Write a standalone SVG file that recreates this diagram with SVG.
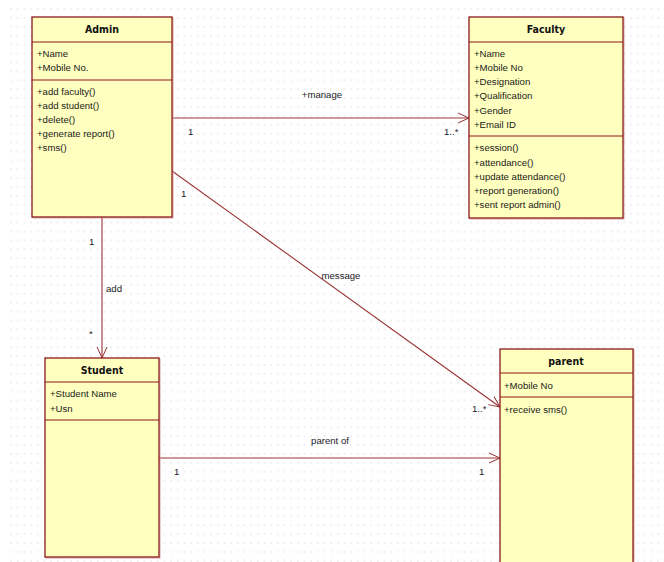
<svg xmlns="http://www.w3.org/2000/svg" width="664" height="562" viewBox="0 0 664 562">
<defs>
<pattern id="grid" x="10" y="8" width="6.67" height="8.9" patternUnits="userSpaceOnUse">
<rect x="0.5" y="0.5" width="1" height="1" fill="#c4c4c4"/>
</pattern>
<marker id="open" viewBox="0 0 12 12" refX="11" refY="6" markerWidth="12" markerHeight="12" markerUnits="userSpaceOnUse" orient="auto">
<path d="M0,1 L11,6 L0,11" fill="none" stroke="#993333" stroke-width="1"/>
</marker>
<style>
.box{fill:#ffffbf;stroke:#8b1a1a;stroke-width:1.3}
.shadow{fill:none;stroke:#d9a0a0;stroke-width:1}
.div{stroke:#8b1a1a;stroke-width:1}
.title{font-family:"DejaVu Sans Condensed","DejaVu Sans",sans-serif;font-weight:bold;font-size:10.5px;fill:#111;text-anchor:middle}
.t{font-family:"Liberation Sans",Arial,sans-serif;font-size:9.6px;fill:#1a1a1a}
.lbl{font-family:"Liberation Sans",Arial,sans-serif;font-size:9.6px;fill:#1a1a2a}
.conn{fill:none;stroke:#993333;stroke-width:1.1}
</style>
</defs>
<rect x="0" y="0" width="664" height="562" fill="#ffffff"/>
<rect x="10" y="6" width="654" height="556" fill="url(#grid)"/>

<g id="connectors">
<line class="conn" x1="172" y1="118" x2="469" y2="118" marker-end="url(#open)"/>
<line class="conn" x1="172" y1="171" x2="500" y2="407" marker-end="url(#open)"/>
<line class="conn" x1="102" y1="217" x2="102" y2="358" marker-end="url(#open)"/>
<line class="conn" x1="159" y1="458" x2="500" y2="458" marker-end="url(#open)"/>
<text class="lbl" x="322" y="98" text-anchor="middle">+manage</text>
<text class="lbl" x="188" y="135">1</text>
<text class="lbl" x="444" y="135">1..*</text>
<text class="lbl" x="181" y="197">1</text>
<text class="lbl" x="341" y="279" text-anchor="middle">message</text>
<text class="lbl" x="472" y="412">1..*</text>
<text class="lbl" x="89" y="245">1</text>
<text class="lbl" x="106" y="292">add</text>
<text class="lbl" x="89" y="337">*</text>
<text class="lbl" x="330" y="444" text-anchor="middle">parent of</text>
<text class="lbl" x="174" y="475">1</text>
<text class="lbl" x="479" y="475">1</text>
</g>

<g id="admin">
<rect class="shadow" x="33" y="18" width="140" height="200"/>
<rect class="box" x="32" y="17" width="140" height="200"/>
<line class="div" x1="32" y1="42" x2="172" y2="42"/>
<line class="div" x1="32" y1="80" x2="172" y2="80"/>
<text class="title" x="102" y="33">Admin</text>
<text class="t" x="37" y="57">+Name</text>
<text class="t" x="37" y="71">+Mobile No.</text>
<text class="t" x="37" y="95">+add faculty()</text>
<text class="t" x="37" y="109">+add student()</text>
<text class="t" x="37" y="123">+delete()</text>
<text class="t" x="37" y="137">+generate report()</text>
<text class="t" x="37" y="151">+sms()</text>
</g>

<g id="faculty">
<rect class="shadow" x="470" y="18" width="154" height="201"/>
<rect class="box" x="469" y="17" width="154" height="201"/>
<line class="div" x1="469" y1="42" x2="623" y2="42"/>
<line class="div" x1="469" y1="136" x2="623" y2="136"/>
<text class="title" x="546" y="33">Faculty</text>
<text class="t" x="474" y="57">+Name</text>
<text class="t" x="474" y="71">+Mobile No</text>
<text class="t" x="474" y="85">+Designation</text>
<text class="t" x="474" y="99">+Qualification</text>
<text class="t" x="474" y="114">+Gender</text>
<text class="t" x="474" y="128">+Email ID</text>
<text class="t" x="474" y="151">+session()</text>
<text class="t" x="474" y="166">+attendance()</text>
<text class="t" x="474" y="180">+update attendance()</text>
<text class="t" x="474" y="194">+report generation()</text>
<text class="t" x="474" y="208">+sent report admin()</text>
</g>

<g id="student">
<rect class="shadow" x="46" y="359" width="114" height="199"/>
<rect class="box" x="45" y="358" width="114" height="199"/>
<line class="div" x1="45" y1="382" x2="159" y2="382"/>
<line class="div" x1="45" y1="420" x2="159" y2="420"/>
<text class="title" x="102" y="374">Student</text>
<text class="t" x="50" y="397">+Student Name</text>
<text class="t" x="50" y="412">+Usn</text>
</g>

<g id="parent">
<rect class="shadow" x="501" y="350" width="133" height="220"/>
<rect class="box" x="500" y="349" width="133" height="220"/>
<line class="div" x1="500" y1="373" x2="633" y2="373"/>
<line class="div" x1="500" y1="397" x2="633" y2="397"/>
<text class="title" x="566" y="365">parent</text>
<text class="t" x="504" y="389">+Mobile No</text>
<text class="t" x="504" y="413">+receive sms()</text>
</g>
</svg>
